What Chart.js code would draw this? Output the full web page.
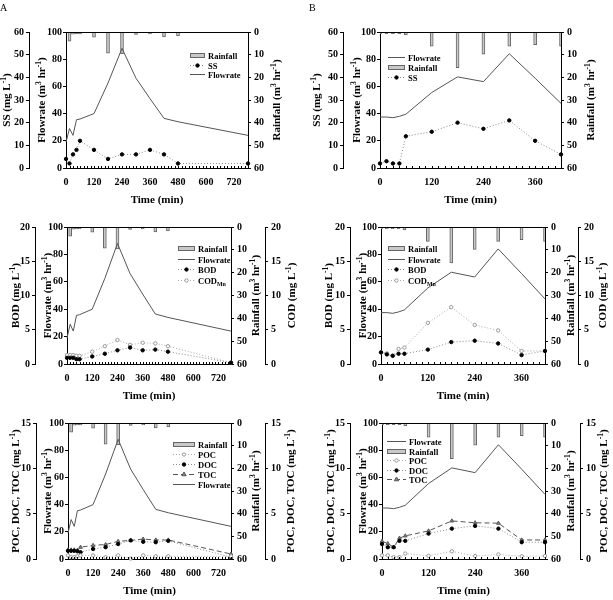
<!DOCTYPE html>
<html>
<head>
<meta charset="utf-8">
<script src="https://cdn.jsdelivr.net/npm/chart.js@4.4.1/dist/chart.umd.min.js"></script>
<style>
body { margin: 0; background: #fff; }
#wrap { position: relative; width: 613px; height: 600px; overflow: hidden; }
canvas { position: absolute; left: 0; top: 0; }
.tag { position: absolute; font: 10px 'Liberation Serif', serif; }
</style>
</head>
<body>
<div id="wrap">
  <canvas id="c1" width="613" height="600"></canvas>
  <canvas id="c2" width="613" height="600"></canvas>
  <canvas id="c3" width="613" height="600"></canvas>
  <canvas id="c4" width="613" height="600"></canvas>
  <canvas id="c5" width="613" height="600"></canvas>
  <canvas id="c6" width="613" height="600"></canvas>
  <div class="tag" style="left:0;top:2px">A</div>
  <div class="tag" style="left:309px;top:2px">B</div>
</div>
<script>
// sampling times (min)
const timeA = [0, 15, 30, 45, 60, 120, 180, 240, 300, 360, 420, 480, 780];
const timeB = [0, 15, 30, 45, 60, 120, 180, 240, 300, 360, 420];
const ticksA = [0, 120, 240, 360, 480, 600, 720];
const ticksB = [0, 120, 240, 360];

// flowrate and rainfall
const flowA = [19, 29, 24, 35.5, 36, 40, 62.5, 88, 66, 51, 36.5, 34, 24];
const flowB = [37.5, 37.5, 37, 38, 39.5, 55.5, 67, 63.5, 84, 66, 47.5];
const rainA = [0, 4, 1, 0.8, 0.8, 2.3, 9.3, 9.6, 1.1, 0.8, 2.2, 1.7, 0];
const rainB = [0.7, 0.7, 0.7, 0.7, 1.3, 6.3, 15.7, 9.8, 6.3, 5.6, 6.3];

// water quality
const ssA = [4, 2, 6, 8, 12, 8, 4, 6, 6, 8, 6, 2, 2];
const ssB = [2, 3, 2, 2, 14, 16, 20, 17.3, 21, 12, 6];
const bodA = [0.9, 0.9, 0.9, 0.7, 0.7, 1.1, 1.5, 2.0, 2.4, 2.0, 2.1, 1.8, 0.2];
const codA = [1.3, 1.3, 1.3, 1.2, 1.2, 1.8, 2.6, 3.5, 2.8, 3.1, 3.0, 2.6, 0.2];
const bodB = [1.7, 1.4, 1.2, 1.5, 1.5, 2.1, 3.2, 3.4, 3.0, 1.3, 1.9];
const codB = [1.7, 1.55, 1.2, 2.2, 2.4, 6.0, 8.3, 5.7, 4.9, 1.9, 1.9];
const pocA = [0.4, 0.2, 0.2, 0.3, 0.4, 0.4, 0.2, 0.4, 0.05, 0.4, 0.3, 0.3, 0.3];
const docA = [0.9, 0.9, 0.9, 0.85, 0.75, 1.1, 1.3, 1.65, 2.05, 1.9, 1.85, 2.0, 0.2];
const tocA = [1.0, 1.0, 1.0, 0.95, 1.3, 1.5, 1.6, 1.95, 2.05, 2.2, 2.1, 2.1, 0.55];
const pocB = [0.4, 0.4, 0.2, 0.2, 0.6, 0.35, 0.85, 0.33, 0.5, 0.3, 0.33];
const docB = [1.65, 1.3, 1.3, 2.0, 2.0, 2.8, 3.35, 3.65, 3.35, 1.85, 1.85];
const tocB = [1.95, 1.7, 1.3, 2.3, 2.55, 3.1, 4.2, 4.0, 3.95, 2.1, 2.1];

const serif = "'Liberation Serif','Times New Roman',serif";
const tickFont = { family: serif, weight: 'bold', size: 10 };

function pts(t, v) { return t.map((x, i) => ({ x: x, y: v[i] })); }

function flowSet(t, v) {
  return { type: 'line', label: 'Flowrate', data: pts(t, v), yAxisID: 'yF',
    borderColor: '#555', borderWidth: 1, pointRadius: 0, order: 2, clip: false };
}
function rainSet(t, v) {
  return { type: 'bar', label: 'Rainfall', data: pts(t, v), yAxisID: 'yR',
    backgroundColor: '#c8c8c8', borderColor: '#666', borderWidth: 1, barThickness: 3, order: 5 };
}
const marks = {
  filled: { pointStyle: 'circle', pointRadius: 1.7, pointBackgroundColor: '#000', pointBorderColor: '#000' },
  open: { pointStyle: 'circle', pointRadius: 1.7, pointBackgroundColor: '#fff', pointBorderColor: '#999' },
  tri: { pointStyle: 'triangle', pointRadius: 2.1, pointBackgroundColor: '#888', pointBorderColor: '#555' }
};
function qSet(label, t, v, axis, mk, dash, color) {
  return Object.assign({ type: 'line', label: label, data: pts(t, v), yAxisID: axis,
    borderColor: color || '#888', borderWidth: 1, borderDash: dash || [1, 2],
    pointBorderWidth: 1, order: 1, clip: false }, marks[mk]);
}

function richParts(text) {
  const parts = [], re = /([\^_])\{([^}]*)\}/g;
  let last = 0, m;
  while ((m = re.exec(text))) {
    if (m.index > last) parts.push({ t: text.slice(last, m.index), k: '' });
    parts.push({ t: m[2], k: m[1] });
    last = re.lastIndex;
  }
  if (last < text.length) parts.push({ t: text.slice(last), k: '' });
  return parts;
}
function drawRich(ctx, text, x, y, size, align) {
  const parts = richParts(text);
  let w = 0;
  parts.forEach(p => {
    p.s = p.k ? size * 0.7 : size;
    ctx.font = 'bold ' + p.s + 'px ' + serif;
    p.w = ctx.measureText(p.t).width;
    w += p.w;
  });
  let cx = align === 'left' ? x : x - w / 2;
  ctx.textBaseline = 'alphabetic';
  ctx.textAlign = 'left';
  parts.forEach(p => {
    ctx.font = 'bold ' + p.s + 'px ' + serif;
    const dy = p.k === '^' ? -size * 0.38 : (p.k === '_' ? size * 0.28 : 0);
    ctx.fillText(p.t, cx, y + dy);
    cx += p.w;
  });
}
function drawMarker(ctx, ds, x, y) {
  const r = ds.pointRadius;
  if (!r) return;
  ctx.beginPath();
  if (ds.pointStyle === 'triangle') {
    ctx.moveTo(x, y - r * 1.2); ctx.lineTo(x + r * 1.05, y + r * 0.6); ctx.lineTo(x - r * 1.05, y + r * 0.6);
    ctx.closePath();
  } else {
    ctx.arc(x, y, r, 0, Math.PI * 2);
  }
  ctx.fillStyle = ds.pointBackgroundColor; ctx.fill();
  ctx.strokeStyle = ds.pointBorderColor; ctx.lineWidth = 1; ctx.stroke();
}

// frame top, minor ticks, axis titles and legend
function decor(p) {
  return {
    id: 'decor',
    afterDraw(chart) {
      const ctx = chart.ctx, a = chart.chartArea, xs = chart.scales.x;
      ctx.save();
      ctx.strokeStyle = '#000'; ctx.lineWidth = 1; ctx.setLineDash([]);
      ctx.beginPath();
      ctx.moveTo(a.left, Math.round(a.top) + 0.5); ctx.lineTo(a.right, Math.round(a.top) + 0.5);
      for (let v = 0; v <= xs.max; v += 15) {
        const px = Math.round(xs.getPixelForValue(v)) + 0.5;
        ctx.moveTo(px, a.bottom); ctx.lineTo(px, a.bottom - 2);
      }
      ctx.stroke();
      ctx.fillStyle = '#000';
      p.titles.forEach(tt => {
        const s = chart.scales[tt.id];
        const cx = s.position === 'left' ? s.right - tt.gap : s.left + tt.gap;
        ctx.save();
        ctx.translate(cx, (a.top + a.bottom) / 2);
        ctx.rotate(-Math.PI / 2);
        drawRich(ctx, tt.text, 0, 4, 11);
        ctx.restore();
      });
      drawRich(ctx, 'Time (min)', (a.left + a.right) / 2, a.bottom + 35, 11);

      const lg = p.legend;
      lg.items.forEach((label, i) => {
        const ds = chart.data.datasets.find(d => d.label === label);
        const lx = a.left + lg.x, ly = Math.round(a.top + lg.y + i * lg.dy);
        if (ds.type === 'bar') {
          ctx.fillStyle = ds.backgroundColor; ctx.fillRect(lx, ly - 2, lg.w, 4);
          ctx.strokeStyle = ds.borderColor; ctx.lineWidth = 1; ctx.setLineDash([]);
          ctx.strokeRect(lx + 0.5, ly - 1.5, lg.w - 1, 4);
        } else {
          ctx.strokeStyle = ds.borderColor; ctx.lineWidth = 1; ctx.setLineDash(ds.borderDash || []);
          ctx.beginPath(); ctx.moveTo(lx, ly + 0.5); ctx.lineTo(lx + lg.w, ly + 0.5); ctx.stroke();
          ctx.setLineDash([]);
          drawMarker(ctx, ds, lx + lg.w / 2, ly + 0.5);
        }
        ctx.fillStyle = '#000';
        drawRich(ctx, label, lx + lg.w + 3, ly + 3.5, 8.5, 'left');
      });
      ctx.restore();
    }
  };
}

function yAxis(pos, weight, max, step, width, extra) {
  return Object.assign({
    type: 'linear', position: pos, weight: weight, min: 0, max: max,
    ticks: { stepSize: step, font: tickFont, color: '#000', padding: 2 },
    grid: { drawOnChartArea: false, drawTicks: true, tickLength: 3, color: '#000' },
    border: { display: true, color: '#000', width: 1 },
    afterFit: s => { s.width = width; }
  }, extra || {});
}

function makePanel(p) {
  const a = p.area;
  const wL = 26, wF = a.l - p.outerL;
  const wR = p.outerR ? p.outerR - a.r : 40, wC = p.outerR ? 26 : 0;
  const scales = {
    x: {
      type: 'linear', min: 0, max: p.xMax, offset: false,
      afterBuildTicks: s => { s.ticks = p.xt.map(v => ({ value: v })); },
      ticks: { font: tickFont, color: '#000', padding: 8, autoSkip: false, maxRotation: 0 },
      grid: { drawOnChartArea: false, drawTicks: false, offset: false },
      border: { display: true, color: '#000', width: 1 },
      afterFit: s => { s.height = 30; }
    },
    yF: yAxis('left', 1, 100, 20, wF, { ticks: { stepSize: 20, font: tickFont, color: '#000', padding: 1 } }),
    yL: yAxis('left', 2, p.left.max, p.left.step, wL),
    yR: yAxis('right', 1, 60, 10, wR, { reverse: true, ticks: { stepSize: 10, font: tickFont, color: '#000', padding: 3 } })
  };
  if (p.right) scales.yC = yAxis('right', 2, p.right.max, p.right.step, wC, { ticks: { stepSize: p.right.step, font: tickFont, color: '#000', padding: 3 } });

  new Chart(document.getElementById(p.id), {
    type: 'line',
    data: { datasets: p.datasets },
    options: {
      responsive: false,
      animation: false,
      events: [],
      layout: { padding: { left: p.outerL - wL, right: 613 - a.r - wR - wC, top: a.t, bottom: 600 - a.b - 30 } },
      plugins: { legend: { display: false }, tooltip: { enabled: false } },
      scales: scales
    },
    plugins: [decor(p)]
  });
}

const flowTitle = 'Flowrate (m^{3} hr^{-1})';
const rainTitle = 'Rainfall (m^{3} hr^{-1})';
const ocTitle = 'POC, DOC, TOC (mg L^{-1})';

makePanel({
  id: 'c1', area: { l: 66, t: 32, r: 248, b: 168 }, outerL: 29, outerR: null,
  xMax: 780, xt: ticksA, left: { max: 60, step: 10 },
  titles: [{ id: 'yL', text: 'SS (mg L^{-1})', gap: 23 }, { id: 'yF', text: flowTitle, gap: 25 }, { id: 'yR', text: rainTitle, gap: 28 }],
  legend: { x: 124, y: 23, dy: 9.7, w: 15, items: ['Rainfall', 'SS', 'Flowrate'] },
  datasets: [rainSet(timeA, rainA), qSet('SS', timeA, ssA, 'yL', 'filled'), flowSet(timeA, flowA)]
});
makePanel({
  id: 'c2', area: { l: 380, t: 32, r: 561, b: 168 }, outerL: 343, outerR: null,
  xMax: 420, xt: ticksB, left: { max: 60, step: 10 },
  titles: [{ id: 'yL', text: 'SS (mg L^{-1})', gap: 27 }, { id: 'yF', text: flowTitle, gap: 24 }, { id: 'yR', text: rainTitle, gap: 29 }],
  legend: { x: 8, y: 25, dy: 10, w: 17, items: ['Flowrate', 'Rainfall', 'SS'] },
  datasets: [rainSet(timeB, rainB), qSet('SS', timeB, ssB, 'yL', 'filled'), flowSet(timeB, flowB)]
});
makePanel({
  id: 'c3', area: { l: 67, t: 227, r: 231, b: 364 }, outerL: 35, outerR: 265,
  xMax: 780, xt: ticksA, left: { max: 20, step: 5 }, right: { max: 20, step: 5 },
  titles: [{ id: 'yL', text: 'BOD (mg L^{-1})', gap: 20 }, { id: 'yF', text: flowTitle, gap: 20 },
           { id: 'yR', text: rainTitle, gap: 24 }, { id: 'yC', text: 'COD (mg L^{-1})', gap: 26 }],
  legend: { x: 111, y: 21, dy: 10.7, w: 17, items: ['Rainfall', 'Flowrate', 'BOD', 'COD_{Mn}'] },
  datasets: [rainSet(timeA, rainA), flowSet(timeA, flowA),
             qSet('BOD', timeA, bodA, 'yL', 'filled'), qSet('COD_{Mn}', timeA, codA, 'yC', 'open', [1, 2], '#aaa')]
});
makePanel({
  id: 'c4', area: { l: 381, t: 227, r: 545, b: 364 }, outerL: 350, outerR: 578,
  xMax: 420, xt: ticksB, left: { max: 20, step: 5 }, right: { max: 20, step: 5 },
  titles: [{ id: 'yL', text: 'BOD (mg L^{-1})', gap: 22 }, { id: 'yF', text: flowTitle, gap: 19 },
           { id: 'yR', text: rainTitle, gap: 25 }, { id: 'yC', text: 'COD (mg L^{-1})', gap: 24 }],
  legend: { x: 7, y: 21, dy: 10.7, w: 17, items: ['Rainfall', 'Flowrate', 'BOD', 'COD_{Mn}'] },
  datasets: [rainSet(timeB, rainB), flowSet(timeB, flowB),
             qSet('BOD', timeB, bodB, 'yL', 'filled'), qSet('COD_{Mn}', timeB, codB, 'yC', 'open', [1, 2], '#aaa')]
});
makePanel({
  id: 'c5', area: { l: 68, t: 423, r: 231, b: 559 }, outerL: 36, outerR: 265,
  xMax: 780, xt: ticksA, left: { max: 15, step: 5 }, right: { max: 15, step: 5 },
  titles: [{ id: 'yL', text: ocTitle, gap: 21 }, { id: 'yF', text: flowTitle, gap: 21 },
           { id: 'yR', text: rainTitle, gap: 24 }, { id: 'yC', text: ocTitle, gap: 25 }],
  legend: { x: 105, y: 21, dy: 10, w: 22, items: ['Rainfall', 'POC', 'DOC', 'TOC', 'Flowrate'] },
  datasets: [rainSet(timeA, rainA), qSet('POC', timeA, pocA, 'yL', 'open', [1, 2], '#aaa'),
             qSet('DOC', timeA, docA, 'yL', 'filled'), qSet('TOC', timeA, tocA, 'yL', 'tri', [5, 3], '#555'),
             flowSet(timeA, flowA)]
});
makePanel({
  id: 'c6', area: { l: 382, t: 423, r: 545, b: 559 }, outerL: 350, outerR: 580,
  xMax: 420, xt: ticksB, left: { max: 15, step: 5 }, right: { max: 15, step: 5 },
  titles: [{ id: 'yL', text: ocTitle, gap: 20 }, { id: 'yF', text: flowTitle, gap: 20 },
           { id: 'yR', text: rainTitle, gap: 25 }, { id: 'yC', text: ocTitle, gap: 23 }],
  legend: { x: 5, y: 18, dy: 9.6, w: 19, items: ['Flowrate', 'Rainfall', 'POC', 'DOC', 'TOC'] },
  datasets: [rainSet(timeB, rainB), flowSet(timeB, flowB), qSet('POC', timeB, pocB, 'yL', 'open', [1, 2], '#aaa'),
             qSet('DOC', timeB, docB, 'yL', 'filled'), qSet('TOC', timeB, tocB, 'yL', 'tri', [5, 3], '#555')]
});
</script>
</body>
</html>
